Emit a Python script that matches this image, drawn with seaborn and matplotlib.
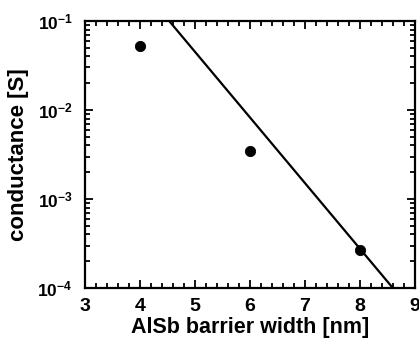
import numpy as np
import pandas as pd
import matplotlib
matplotlib.use("Agg")
import matplotlib.pyplot as plt
import seaborn as sns
from matplotlib.ticker import MultipleLocator, LogLocator, FixedLocator, FixedFormatter

# DATI
barrier_width = [4, 6, 8]
conductance = [0.052, 0.0035, 0.00027]
fit_width = [4.53, 8.6]
fit_conductance = [1e-1, 1e-4]
y_ticks = [1e-4, 1e-3, 1e-2, 1e-1]
y_ticklabels = ["10$^{-4}$", "10$^{-3}$", "10$^{-2}$", "10$^{-1}$"]

sns.set_style("ticks")
plt.rcParams['font.family'] = ['Liberation Sans', 'DejaVu Sans']
plt.rcParams['font.weight'] = 'bold'
plt.rcParams['text.color'] = 'black'
plt.rcParams['axes.labelcolor'] = 'black'
plt.rcParams['mathtext.fontset'] = 'custom'
plt.rcParams['mathtext.rm'] = 'Liberation Sans:bold'
plt.rcParams['mathtext.bf'] = 'Liberation Sans:bold'
plt.rcParams['mathtext.default'] = 'bf'

df = pd.DataFrame({"w": barrier_width, "g": conductance})
fit = pd.DataFrame({"w": fit_width, "g": fit_conductance})

fig = plt.figure(figsize=(4.19, 3.38), dpi=100)
ax = fig.add_axes([0.203, 0.148, 0.787, 0.79])

sns.lineplot(data=fit, x="w", y="g", color="black", linewidth=1.6, ax=ax)
sns.scatterplot(data=df, x="w", y="g", color="black", s=55, edgecolor="black", ax=ax, zorder=3)

ax.set_yscale("log")
ax.set_xlim(3, 9)
ax.set_ylim(1e-4, 1e-1)

ax.xaxis.set_major_locator(MultipleLocator(1))
ax.xaxis.set_minor_locator(MultipleLocator(0.2))
ax.yaxis.set_major_locator(FixedLocator(y_ticks))
ax.yaxis.set_major_formatter(FixedFormatter(y_ticklabels))
ax.yaxis.set_minor_locator(LogLocator(base=10, subs=np.arange(2, 10), numticks=20))

ax.tick_params(which="both", direction="in", top=True, right=True, width=1.3,
               color="black", labelcolor="black")
ax.tick_params(which="major", length=6)
ax.tick_params(which="minor", length=3.5)
ax.tick_params(axis="x", which="major", labelsize=14, pad=7)
ax.tick_params(axis="y", which="major", labelsize=12.5, pad=9)
for s in ax.spines.values():
    s.set_linewidth(1.6)
    s.set_color("black")

ax.set_xlabel("AlSb barrier width [nm]", fontsize=15.5, fontweight="bold", labelpad=2, color="black")
ax.set_ylabel("conductance [S]", fontsize=16, fontweight="bold", labelpad=6, color="black")

fig.savefig("out.png", dpi=100)
